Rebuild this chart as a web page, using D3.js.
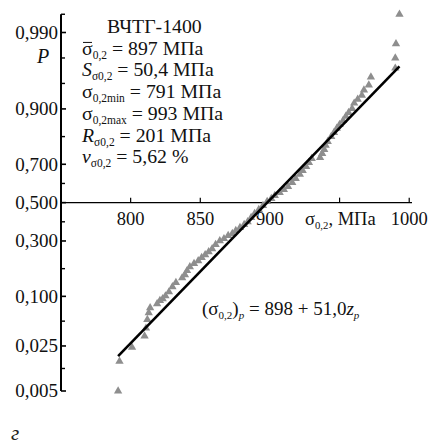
<!DOCTYPE html>
<html>
<head>
<meta charset="utf-8">
<script src="https://cdn.jsdelivr.net/npm/d3@7"></script>
<style>
  body { margin: 0; background: #fff; }
  svg { display: block; font-family: "Liberation Serif", "Times New Roman", serif; }
</style>
</head>
<body>
<div id="chart"></div>
<script>
const w = 432;
const h = 446;

// tensile yield strength values (MPa) and their cumulative probability
const sigma = [791, 792, 801, 810, 811, 812, 813, 814, 819, 821, 823, 825, 827.5, 830, 832.5, 837, 839, 840.5,
  842.5, 845.5, 848.5, 851, 853.5, 856, 858.5, 861, 864, 867, 870, 873, 875.5, 878.5, 881.5, 884, 886.5, 889,
  892, 895, 898, 901, 903.5, 907, 910, 913, 916, 918.5, 921.5, 923.5, 926, 928, 930, 936, 937.5, 939, 940,
  941.5, 944, 946, 948, 950, 952.5, 954.5, 956.5, 959, 960.5, 963, 966, 967.5, 971, 972.5, 990, 990, 990.5, 993];
const prob = [0.005, 0.015, 0.024, 0.034, 0.043, 0.055, 0.066, 0.075, 0.083, 0.090, 0.094, 0.101, 0.111, 0.125,
  0.137, 0.152, 0.162, 0.176, 0.190, 0.202, 0.213, 0.226, 0.238, 0.251, 0.264, 0.283, 0.301, 0.311, 0.326, 0.336,
  0.351, 0.366, 0.382, 0.397, 0.419, 0.440, 0.462, 0.484, 0.506, 0.522, 0.538, 0.555, 0.571, 0.587, 0.608, 0.629,
  0.650, 0.669, 0.689, 0.708, 0.727, 0.731, 0.749, 0.766, 0.783, 0.798, 0.817, 0.831, 0.845, 0.857, 0.869, 0.881,
  0.891, 0.901, 0.913, 0.921, 0.929, 0.938, 0.946, 0.957, 0.967, 0.976, 0.985, 0.995];

const pTicks = [0.990, 0.900, 0.700, 0.500, 0.300, 0.100, 0.025, 0.005];
const xTicks = [800, 850, 900, 950, 1000];
const xLabelled = [800, 850, 900, 1000];

// fitted line (σ0,2)p = 898 + 51,0 zp between min and max
const fitA = 898, fitB = 51.0;
const sigmaMin = 791, sigmaMax = 993;

const statLines = [
  [{t: "ВЧТГ-1400"}],
  [{t: "σ", bar: true}, {t: "0,2", sub: true}, {t: " = 897 МПа"}],
  [{t: "S", it: true}, {t: "σ0,2", sub: true}, {t: " = 50,4 МПа"}],
  [{t: "σ"}, {t: "0,2min", sub: true}, {t: " = 791 МПа"}],
  [{t: "σ"}, {t: "0,2max", sub: true}, {t: " = 993 МПа"}],
  [{t: "R", it: true}, {t: "σ0,2", sub: true}, {t: " = 201 МПа"}],
  [{t: "v", it: true}, {t: "σ0,2", sub: true}, {t: " = 5,62 %"}]
];
const eqLine = [{t: "(σ"}, {t: "0,2", sub: true}, {t: ")"}, {t: "p", sub: true, it: true},
  {t: " = 898 + 51,0"}, {t: "z", it: true}, {t: "p", sub: true, it: true}];

// inverse normal cdf (Acklam)
function probit(p) {
  const a = [-39.69683028665376, 220.9460984245205, -275.9285104469687, 138.3577518672690, -30.66479806614716, 2.506628277459239];
  const b = [-54.47609879822406, 161.5858368580409, -155.6989798598866, 66.80131188771972, -13.28068155288572];
  const c = [-0.007784894002430293, -0.3223964580411365, -2.400758277161838, -2.549732539343734, 4.374664141464968, 2.938163982698783];
  const d = [0.007784695709041462, 0.3224671290700398, 2.445134137142996, 3.754408661907416];
  const pl = 0.02425;
  let q, r;
  if (p < pl) {
    q = Math.sqrt(-2 * Math.log(p));
    return (((((c[0]*q+c[1])*q+c[2])*q+c[3])*q+c[4])*q+c[5]) / ((((d[0]*q+d[1])*q+d[2])*q+d[3])*q+1);
  }
  if (p > 1 - pl) {
    q = Math.sqrt(-2 * Math.log(1 - p));
    return -(((((c[0]*q+c[1])*q+c[2])*q+c[3])*q+c[4])*q+c[5]) / ((((d[0]*q+d[1])*q+d[2])*q+d[3])*q+1);
  }
  q = p - 0.5; r = q * q;
  return (((((a[0]*r+a[1])*r+a[2])*r+a[3])*r+a[4])*r+a[5])*q / (((((b[0]*r+b[1])*r+b[2])*r+b[3])*r+b[4])*r+1);
}

const xScale = d3.scaleLinear().domain([750, 1002]).range([61, 412]);
const zScale = d3.scaleLinear().domain([probit(0.005), probit(0.99)]).range([391, 32.5]);
const yScale = p => zScale(probit(p));

const svg = d3.select("#chart").append("svg")
  .attr("width", w).attr("height", h);

svg.append("rect").attr("width", w).attr("height", h).attr("fill", "#fff");

// rich text helper
function richText(g, x, y, segs, size) {
  const t = g.append("text").attr("x", x).attr("y", y)
    .attr("font-size", size).attr("fill", "#111");
  let shift = 0;
  segs.forEach(s => {
    const target = s.sub ? 4 : 0;
    const sp = t.append("tspan")
      .attr("dy", target - shift)
      .attr("font-size", s.sub ? size * 0.58 : size)
      .attr("font-style", s.it ? "italic" : null)
      .text(s.t);
    if (s.bar) {
      const bb = sp.node().getBBox();
      g.append("line")
        .attr("x1", bb.x + 1).attr("x2", bb.x + bb.width - 1)
        .attr("y1", y - size * 0.62).attr("y2", y - size * 0.62)
        .attr("stroke", "#111").attr("stroke-width", 1);
    }
    shift = target;
  });
  return t;
}

// y axis (probability)
const yAxis = svg.append("g");
yAxis.append("line")
  .attr("x1", 61).attr("x2", 61)
  .attr("y1", yScale(0.995)).attr("y2", yScale(0.005))
  .attr("stroke", "#000").attr("stroke-width", 2);

const minorZ = [];
const zs = pTicks.map(probit);
for (let i = 0; i < zs.length - 1; i++) {
  if (i === 0) {
    minorZ.push(zs[0] + (zs[1] - zs[0]) / 3, zs[0] + 2 * (zs[1] - zs[0]) / 3);
  } else {
    minorZ.push((zs[i] + zs[i + 1]) / 2);
  }
}
minorZ.push(probit(0.995));

yAxis.selectAll(".major").data(pTicks).enter().append("line")
  .attr("x1", 61).attr("x2", 66)
  .attr("y1", d => yScale(d)).attr("y2", d => yScale(d))
  .attr("stroke", "#000").attr("stroke-width", 1.6);
yAxis.selectAll(".minor").data(minorZ).enter().append("line")
  .attr("x1", 61).attr("x2", 65)
  .attr("y1", d => zScale(d)).attr("y2", d => zScale(d))
  .attr("stroke", "#000").attr("stroke-width", 1.4);
yAxis.selectAll(".lab").data(pTicks).enter().append("text")
  .attr("x", 58).attr("y", d => yScale(d)).attr("dy", "0.34em")
  .attr("text-anchor", "end").attr("font-size", 19).attr("fill", "#111")
  .text(d => d3.format(".3f")(d).replace(".", ","));

svg.append("text").attr("x", 37).attr("y", 63)
  .attr("font-size", 20).attr("font-style", "italic").attr("fill", "#111").text("P");

// x axis at P = 0.5
const x0 = yScale(0.5);
svg.append("line")
  .attr("x1", xScale(750)).attr("x2", xScale(1002))
  .attr("y1", x0).attr("y2", x0)
  .attr("stroke", "#000").attr("stroke-width", 1.3);
svg.selectAll(".xt").data(xTicks).enter().append("line")
  .attr("x1", d => xScale(d)).attr("x2", d => xScale(d))
  .attr("y1", x0).attr("y2", x0 - 5)
  .attr("stroke", "#000").attr("stroke-width", 1.2);
svg.selectAll(".xl").data(xLabelled).enter().append("text")
  .attr("x", d => xScale(d)).attr("y", x0 + 22)
  .attr("text-anchor", "middle").attr("font-size", 18.5).attr("fill", "#111")
  .text(d => d);
richText(svg, 305, x0 + 22, [{t: "σ"}, {t: "0,2", sub: true}, {t: ", МПа"}], 18.5);

// points
svg.append("g").selectAll("path")
  .data(sigma.map((s, i) => [s, prob[i]]))
  .enter().append("path")
  .attr("d", d3.symbol(d3.symbolTriangle, 30))
  .attr("transform", d => `translate(${xScale(d[0])},${yScale(d[1])})`)
  .attr("fill", "#8e8e8e");

// fitted line
const fitLine = d3.line()
  .x(d => xScale(d))
  .y(d => zScale((d - fitA) / fitB));
svg.append("path")
  .attr("d", fitLine([sigmaMin, sigmaMax]))
  .attr("stroke", "#000").attr("stroke-width", 2.6).attr("fill", "none");

// stats block
const stats = svg.append("g");
statLines.forEach((segs, i) => {
  richText(stats, i === 0 ? 107 : 82, 33 + i * 21.7, segs, 19.8);
});

richText(svg, 202, 315, eqLine, 19);

svg.append("text").attr("x", 11).attr("y", 440)
  .attr("font-size", 21).attr("font-style", "italic").attr("fill", "#222").text("г");
</script>
</body>
</html>
